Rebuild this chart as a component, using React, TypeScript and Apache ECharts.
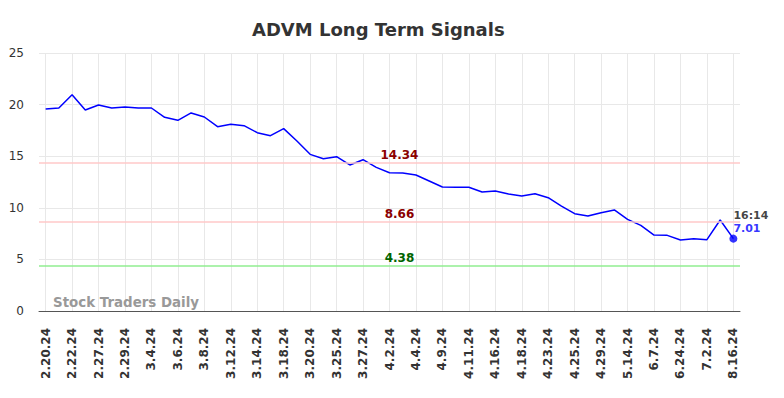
import React, { useEffect, useRef } from "react";
import * as echarts from "echarts";

const dates = [
  "2.20.24", "2.21.24", "2.22.24", "2.26.24", "2.27.24", "2.28.24", "2.29.24", "3.1.24", "3.4.24", "3.5.24",
  "3.6.24", "3.7.24", "3.8.24", "3.11.24", "3.12.24", "3.13.24", "3.14.24", "3.15.24", "3.18.24", "3.19.24",
  "3.20.24", "3.21.24", "3.25.24", "3.26.24", "3.27.24", "4.1.24", "4.2.24", "4.3.24", "4.4.24", "4.8.24",
  "4.9.24", "4.10.24", "4.11.24", "4.15.24", "4.16.24", "4.17.24", "4.18.24", "4.22.24", "4.23.24", "4.24.24",
  "4.25.24", "4.26.24", "4.29.24", "5.7.24", "5.14.24", "5.24.24", "6.7.24", "6.14.24", "6.24.24", "6.28.24",
  "7.2.24", "7.24.24", "8.16.24",
];

const prices = [
  19.57, 19.67, 20.96, 19.48, 19.96, 19.67, 19.77, 19.67, 19.67, 18.77,
  18.48, 19.19, 18.8, 17.86, 18.09, 17.96, 17.28, 16.99, 17.67, 16.47,
  15.18, 14.76, 14.95, 14.15, 14.66, 13.92, 13.4, 13.37, 13.18, 12.6,
  12.02, 12.0, 11.99, 11.53, 11.63, 11.34, 11.14, 11.37, 10.98, 10.17,
  9.43, 9.2, 9.53, 9.79, 8.88, 8.3, 7.36, 7.33, 6.88, 7.01,
  6.91, 8.82, 7.01,
];

const signalLevels = [14.34, 8.66, 4.38];
const signalLineColors = ["#ffc8c8", "#ffc8c8", "#90ee90"];
const signalLabelColors = ["#8b0000", "#8b0000", "#006400"];

const lastTime = "16:14";
const yTicks = { min: 0, max: 25, interval: 5 };

export default function App() {
  const ref = useRef<HTMLDivElement>(null);
  useEffect(() => {
    if (!ref.current) return;
    const chart = echarts.init(ref.current, undefined, { renderer: "svg" });
    const lastIdx = prices.length - 1;
    chart.setOption({
      animation: false,
      textStyle: { fontFamily: "DejaVu Sans" },
      title: {
        text: "ADVM Long Term Signals",
        left: 247,
        top: 15,
        textStyle: { fontSize: 18, fontWeight: "bold", color: "#333", fontFamily: "DejaVu Sans" },
      },
      grid: { left: 39, right: 44, top: 53, bottom: 87, containLabel: false },
      xAxis: {
        type: "category",
        data: dates,
        boundaryGap: true,
        axisLine: { show: true, lineStyle: { color: "#555", width: 1 } },
        axisTick: { show: false, alignWithLabel: true, interval: 1 },
        axisLabel: {
          rotate: 90,
          interval: 1,
          fontSize: 12,
          fontWeight: "bold",
          color: "#333",
          margin: 17,
          fontFamily: "DejaVu Sans",
        },
        splitLine: { show: true, interval: 1, alignWithLabel: true, lineStyle: { color: "#e8e8e8", width: 1 } },
      },
      yAxis: {
        type: "value",
        min: yTicks.min,
        max: yTicks.max,
        interval: yTicks.interval,
        axisLine: { show: false },
        axisTick: { show: false },
        axisLabel: { fontSize: 12, color: "#333", margin: 15, fontFamily: "DejaVu Sans" },
        splitLine: { show: true, lineStyle: { color: "#e8e8e8", width: 1 } },
      },
      graphic: [
        {
          type: "text",
          left: 53,
          top: 296,
          style: { text: "Stock Traders Daily", fill: "#999", font: "bold 13.4px 'DejaVu Sans'" },
          z: 10,
        },
      ],
      series: [
        {
          type: "line",
          data: prices,
          showSymbol: false,
          symbol: "none",
          lineStyle: { color: "#0000ff", width: 1.5 },
          itemStyle: { color: "#0000ff" },
          z: 3,
          markLine: {
            silent: true,
            symbol: "none",
            data: signalLevels.map((v, i) => ({
              yAxis: v,
              lineStyle: { color: signalLineColors[i], width: 1.5, type: "solid" },
              label: {
                show: true,
                position: "middle",
                formatter: v.toFixed(2),
                color: signalLabelColors[i],
                fontWeight: "bold",
                fontSize: 12,
                distance: 2,
                offset: [10, 0],
                fontFamily: "DejaVu Sans",
              },
            })),
          },
        },
        {
          type: "scatter",
          data: [[lastIdx, prices[lastIdx]]],
          symbol: "circle",
          symbolSize: 8,
          itemStyle: { color: "#0000ff" },
          z: 4,
          label: {
            show: true,
            position: "right",
            offset: [-9, -17],
            formatter: () => `{t|${lastTime}}\n{v|${prices[lastIdx].toFixed(2)}}`,
            rich: {
              t: { color: "#111", fontWeight: "bold", fontSize: 11, lineHeight: 13, fontFamily: "DejaVu Sans" },
              v: { color: "#0000ff", fontWeight: "bold", fontSize: 11, lineHeight: 13, fontFamily: "DejaVu Sans" },
            },
          },
        },
      ],
    });
    return () => chart.dispose();
  }, []);
  return <div ref={ref} style={{ width: 784, height: 398, margin: -8 }} />;
}
